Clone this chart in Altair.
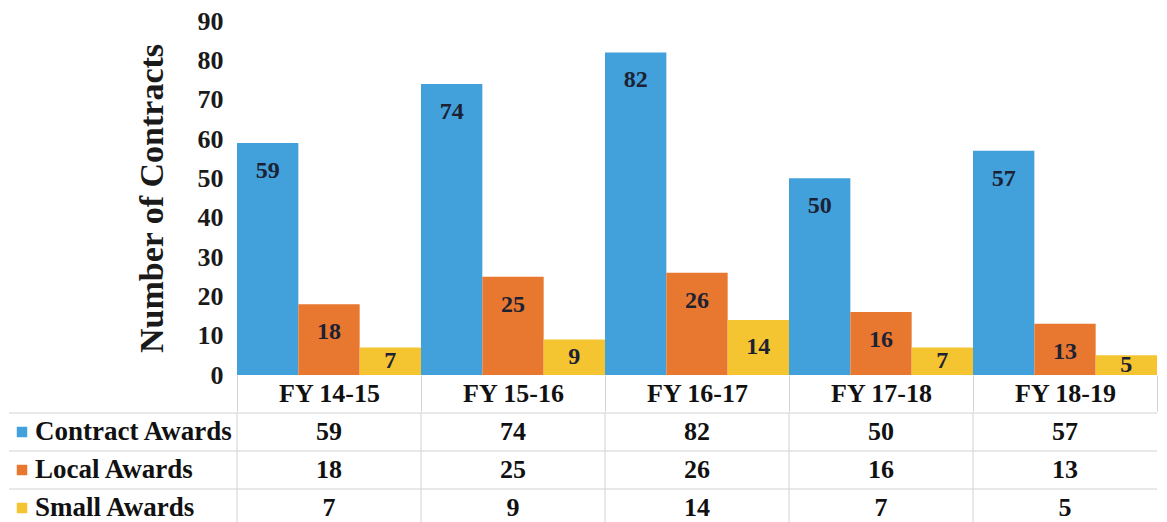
import altair as alt
import pandas as pd

years = ["FY 14-15", "FY 15-16", "FY 16-17", "FY 17-18", "FY 18-19"]
series = ["Contract Awards", "Local Awards", "Small Awards"]
contract = [59, 74, 82, 50, 57]
local = [18, 25, 26, 16, 13]
small = [7, 9, 14, 7, 5]
colors = ["#42A0DA", "#E8772F", "#F5C431"]

FONT = "Liberation Serif"
W = 920
BAR_H = 354
HDR_H = 36
ROW_H = 38

recs = []
for s, vals in zip(series, [contract, local, small]):
    for yv, v in zip(years, vals):
        recs.append({"year": yv, "series": s, "value": v})
df = pd.DataFrame(recs)
ldf = pd.DataFrame({"row": series, "series": series})

xscale = alt.Scale(domain=years, paddingInner=0, paddingOuter=0)
xaxis = alt.Axis(title=None, domain=False, ticks=True, tickBand="extent", tickSize=HDR_H,
                 tickColor="#d2d2d2", tickWidth=1, labelPadding=-31, labelAngle=0,
                 labelFont=FONT, labelFontSize=26, labelFontWeight="bold", labelColor="#111111")
xenc_axis = alt.X("year:N", sort=years, scale=xscale, axis=xaxis)
xenc = alt.X("year:N", sort=years, scale=xscale, axis=None)
color = alt.Color("series:N", scale=alt.Scale(domain=series, range=colors), legend=None)
xoff = alt.XOffset("series:N", sort=series, scale=alt.Scale(domain=series, paddingInner=0, paddingOuter=0))
yscale = alt.Scale(domain=[0, 90], nice=False)
yaxis = alt.Axis(values=list(range(0, 91, 10)), title="Number of Contracts", grid=False,
                 domain=False, ticks=False, labelPadding=14, labelOverlap=False,
                 labelFont=FONT, labelFontSize=26,
                 labelFontWeight="bold", labelColor="#1a1a1a", titleFont=FONT, titleFontSize=34,
                 titleFontWeight="bold", titleColor="#1a1a1a", titlePadding=28)

base = alt.Chart(df)
bars = base.mark_bar().encode(
    x=xenc_axis,
    xOffset=xoff,
    y=alt.Y("value:Q", scale=yscale, axis=yaxis),
    color=color,
)
top_labels = base.transform_filter(alt.datum.series != "Small Awards").mark_text(
    font=FONT, fontSize=24, fontWeight="bold", color="#1c2233", baseline="middle", dy=28
).encode(x=xenc_axis, xOffset=xoff, y=alt.Y("value:Q", scale=yscale, axis=yaxis), text="value:Q")
mid_labels = base.transform_filter(alt.datum.series == "Small Awards").transform_calculate(
    mid="datum.value / 2"
).mark_text(
    font=FONT, fontSize=24, fontWeight="bold", color="#1c2233", baseline="middle"
).encode(x=xenc_axis, xOffset=xoff, y=alt.Y("mid:Q", scale=yscale, axis=yaxis), text="value:Q")

top = alt.layer(bars, top_labels, mid_labels).properties(width=W, height=BAR_H)

rscale = alt.Scale(domain=series, paddingInner=0, paddingOuter=0)
yrow = alt.Y("series:N", sort=series, scale=rscale, axis=None)
yrow0 = alt.Y("series:N", sort=series, bandPosition=0, scale=rscale, axis=None)

tbase = alt.Chart(df)
ttext = tbase.mark_text(font=FONT, fontSize=26, fontWeight="bold", color="#111111", baseline="middle").encode(
    x=xenc, y=yrow, text="value:Q")
vlines = alt.Chart(pd.DataFrame({"year": years})).mark_rule(color="#d2d2d2", strokeWidth=1).encode(
    x=alt.X("year:N", sort=years, bandPosition=0, scale=xscale, axis=None),
    y=alt.value(0), y2=alt.value(len(series) * ROW_H))
hlines = alt.Chart(ldf).mark_rule(color="#d2d2d2", strokeWidth=1).encode(
    y=yrow0, x=alt.value(-228), x2=alt.value(W))
lsq = alt.Chart(ldf).mark_square(size=110, opacity=1).encode(
    y=yrow, x=alt.value(-215), color=color)
ltext = alt.Chart(ldf).mark_text(font=FONT, fontSize=27, fontWeight="bold", color="#111111",
                                 align="left", baseline="middle").encode(
    y=yrow, x=alt.value(-202), text="row:N")

table = alt.layer(vlines, hlines, ttext, lsq, ltext).properties(width=W, height=len(series) * ROW_H)

chart = alt.vconcat(top, table, spacing=0).properties(
    padding={"left": 0, "top": 0, "right": 0, "bottom": 0}
).configure_view(strokeWidth=0, stroke="transparent")

chart.save("out.html", embed_options={"renderer": "svg", "actions": False})
